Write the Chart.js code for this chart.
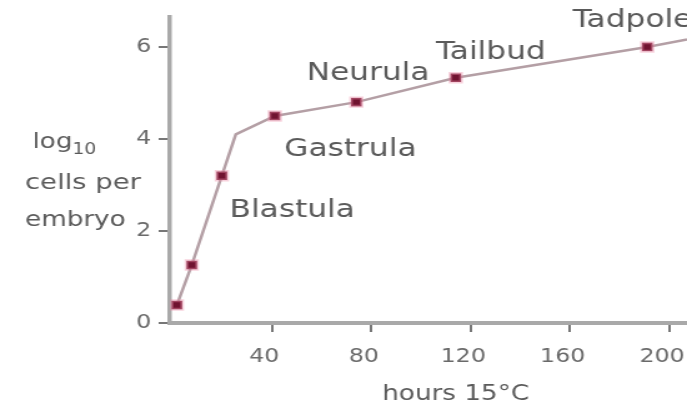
<!DOCTYPE html>
<html>
<head>
<meta charset="utf-8">
<script src="https://cdn.jsdelivr.net/npm/chart.js@4.4.1/dist/chart.umd.min.js"></script>
<style>
  html, body { margin: 0; padding: 0; background: #fff; overflow: hidden; }
  #wrap { width: 687px; height: 408px; overflow: hidden; }
  /* the source picture is stretched sideways, so draw narrow and widen */
  #c { transform: scaleX(1.2491); transform-origin: 0 0; }
</style>
</head>
<body>
<div id="wrap"><canvas id="c" width="550" height="408"></canvas></div>
<script>
'use strict';

// ── DATA ───────────────────────────────────────────────────
// measured stages (hours at 15°C, log10 cells per embryo)
const POINT_HOURS = [1.8, 7.8, 19.9, 41.2, 74, 114, 191];
const POINT_LOG = [0.39, 1.26, 3.2, 4.5, 4.8, 5.33, 6.0];

// drawn curve through the points (bend after blastula, runs on past tadpole)
const CURVE_HOURS = [1.8, 7.8, 19.9, 25.5, 41.2, 74, 114, 191, 207];
const CURVE_LOG = [0.39, 1.26, 3.2, 4.1, 4.5, 4.8, 5.33, 6.0, 6.16];

const STAGE_NAMES = ['Blastula', 'Gastrula', 'Neurula', 'Tailbud', 'Tadpole'];
const X_TICKS = [40, 80, 120, 160, 200];
const Y_TICKS = [0, 2, 4, 6];
const X_TITLE = 'hours 15°C';
const Y_TITLE = ['log', '10', 'cells per', 'embryo'];

// ── LAYOUT ─────────────────────────────────────────────────
// left edge / vertical centre of each stage name, in chart units
const STAGE_POS = [[23, 2.45], [45, 3.78], [54, 5.43], [106, 5.87], [161, 6.57]];
const FONT = '"DejaVu Sans", sans-serif';
const TEXT = '#5a5a5a';

const labelsPlugin = {
  id: 'labels',
  afterDraw(chart) {
    const { ctx, scales: { x, y } } = chart;
    ctx.save();
    ctx.fillStyle = TEXT;
    ctx.textBaseline = 'middle';
    ctx.textAlign = 'left';

    ctx.font = '25px ' + FONT;
    STAGE_NAMES.forEach((name, i) => {
      const [hx, ly] = STAGE_POS[i];
      ctx.fillText(name, x.getPixelForValue(hx), y.getPixelForValue(ly));
    });

    // y title
    ctx.font = '21px ' + FONT;
    ctx.fillText(Y_TITLE[0], 26, 143);
    const w = ctx.measureText(Y_TITLE[0]).width;
    ctx.font = '15px ' + FONT;
    ctx.fillText(Y_TITLE[1], 26 + w, 150);
    ctx.font = '22px ' + FONT;
    ctx.fillText(Y_TITLE[2], 20, 183);
    ctx.font = '21px ' + FONT;
    ctx.fillText(Y_TITLE[3], 20, 221);

    // x title
    ctx.font = '21px ' + FONT;
    ctx.fillText(X_TITLE, 306, 395);
    ctx.restore();
  }
};

new Chart(document.getElementById('c'), {
  type: 'scatter',
  data: {
    datasets: [
      {
        type: 'line',
        data: CURVE_HOURS.map((h, i) => ({ x: h, y: CURVE_LOG[i] })),
        borderColor: '#b49fa5',
        borderWidth: 2.5,
        pointRadius: 0,
        tension: 0,
        order: 2
      },
      {
        data: POINT_HOURS.map((h, i) => ({ x: h, y: POINT_LOG[i] })),
        pointStyle: 'rect',
        pointRadius: 6,
        backgroundColor: '#701330',
        borderColor: 'rgba(236,140,168,0.4)',
        borderWidth: 3,
        order: 1
      }
    ]
  },
  options: {
    responsive: false,
    animation: false,
    devicePixelRatio: 1,
    layout: { autoPadding: false, padding: { top: 17, right: 0, left: 0, bottom: 0 } },
    plugins: { legend: { display: false }, tooltip: { enabled: false } },
    scales: {
      x: {
        type: 'linear',
        min: -1,
        max: 207,
        afterBuildTicks: s => { s.ticks = X_TICKS.map(v => ({ value: v })); },
        afterFit: s => { s.height = 85; s.paddingLeft = 0; s.paddingRight = 0; },
        border: { color: '#a9a9a9', width: 4 },
        grid: { drawOnChartArea: false, tickLength: 9, color: '#777', lineWidth: 2 },
        ticks: { color: '#6a6a6a', font: { family: FONT, size: 19 }, padding: 14, labelOffset: -6, maxRotation: 0 }
      },
      y: {
        type: 'linear',
        min: 0,
        max: 6.65,
        afterBuildTicks: s => { s.ticks = Y_TICKS.map(v => ({ value: v })); },
        afterFit: s => { s.width = 136; s.paddingTop = 0; s.paddingBottom = 0; },
        border: { color: '#a9a9a9', width: 3.5 },
        grid: { drawOnChartArea: false, tickLength: 9, color: '#777', lineWidth: 2 },
        ticks: { color: '#6a6a6a', font: { family: FONT, size: 19 }, padding: 6 }
      }
    }
  },
  plugins: [labelsPlugin]
});
</script>
</body>
</html>
